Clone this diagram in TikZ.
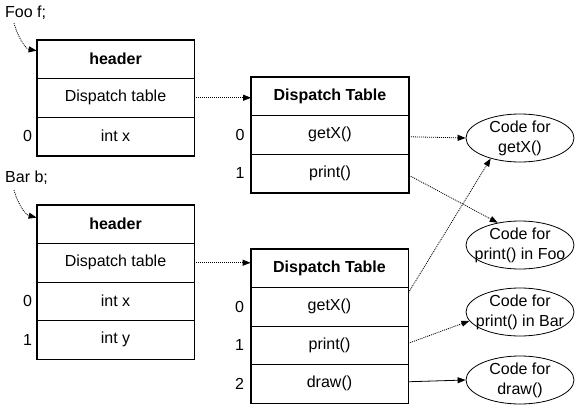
\documentclass[tikz,border=0pt]{standalone}
\usepackage{fontspec}
\setmainfont{Liberation Sans}
\usetikzlibrary{arrows.meta,shapes.geometric}
\begin{document}
\begin{tikzpicture}[x=1pt,y=-1pt,
  cell/.style={draw, line width=0.8pt, minimum width=157pt, minimum height=38.5pt, inner sep=0pt, font=\fontsize{16}{19}\selectfont},
  hdr/.style={font=\fontsize{16}{19}\selectfont\bfseries},
  outerframe/.style={draw, line width=1.6pt},
  idx/.style={inner sep=0pt, font=\fontsize{16}{19}\selectfont},
  lbl/.style={inner sep=0pt, anchor=base west, font=\fontsize{16}{19}\selectfont},
  codeell/.style={draw, ellipse, line width=0.8pt, minimum width=108pt, minimum height=48pt, inner sep=0pt},
  codetxt/.style={inner sep=0pt, align=center, font=\fontsize{16}{20}\selectfont},
  ptr/.style={line width=0.8pt, dash pattern=on 1pt off 1pt, -{Triangle[length=8pt,width=6pt]}},
  solidptr/.style={line width=0.8pt, -{Triangle[length=8pt,width=6pt]}}
]
\useasboundingbox (0,0) rectangle (576,407);

% labels
\node[lbl] (foo) at (5,17) {Foo f;};
\node[lbl] (bar) at (5,182) {Bar b;};

% object Foo
\node[cell,hdr] (b1h) at (115.5,59.25) {header};
\node[cell] (b1r1) at (115.5,97.75) {Dispatch table};
\node[cell] (b1r2) at (115.5,136.25) {int x};
\draw[outerframe] (b1h.north west) rectangle (b1r2.south east);
\node[idx] (i1a) at ([xshift=-9pt]b1r2.west) {0};

% object Bar
\node[cell,hdr] (b2h) at (115.5,224.25) {header};
\node[cell] (b2r1) at (115.5,262.75) {Dispatch table};
\node[cell] (b2r2) at (115.5,301.25) {int x};
\node[cell] (b2r3) at (115.5,339.75) {int y};
\draw[outerframe] (b2h.north west) rectangle (b2r3.south east);
\node[idx] (i2a) at ([xshift=-9pt]b2r2.west) {0};
\node[idx] (i2b) at ([xshift=-9pt]b2r3.west) {1};

% dispatch table 1
\node[cell,hdr] (t1h) at (330,96.25) {Dispatch Table};
\node[cell] (t1r0) at (330,134.75) {getX()};
\node[cell] (t1r1) at (330,173.25) {print()};
\draw[outerframe] (t1h.north west) rectangle (t1r1.south east);
\node[idx] (j1a) at ([xshift=-11pt]t1r0.west) {0};
\node[idx] (j1b) at ([xshift=-11pt]t1r1.west) {1};

% dispatch table 2
\node[cell,hdr] (t2h) at (329.5,268.25) {Dispatch Table};
\node[cell] (t2r0) at (329.5,306.75) {getX()};
\node[cell] (t2r1) at (329.5,345.25) {print()};
\node[cell] (t2r2) at (329.5,383.75) {draw()};
\draw[outerframe] (t2h.north west) rectangle (t2r2.south east);
\node[idx] (j2a) at ([xshift=-11pt]t2r0.west) {0};
\node[idx] (j2b) at ([xshift=-11pt]t2r1.west) {1};
\node[idx] (j2c) at ([xshift=-11pt]t2r2.west) {2};

% code ellipses
\node[codeell] (cgetx) at (520,138) {};
\node[codetxt] (cgetxt) at (cgetx) {Code for\\getX()};
\node[codeell] (cfoo) at (520,245) {};
\node[codetxt] (cfoot) at (cfoo) {Code for\\print() in Foo};
\node[codeell] (cbar) at (520,312) {};
\node[codetxt] (cbart) at (cbar) {Code for\\print() in Bar};
\node[codeell] (cdraw) at (520,380) {};
\node[codetxt] (cdrawt) at (cdraw) {Code for\\draw()};

% pointers from variables
\coordinate (foostart) at (14,23);
\coordinate (barstart) at (14,190);
\draw[ptr] (foostart) .. controls (18,38) and (26,49) .. ([yshift=-11pt]b1h.north west);
\draw[ptr] (barstart) .. controls (18,205) and (26,215) .. ([yshift=-13pt]b2h.north west);

% vtable pointers
\draw[ptr] (b1r1.east) -- (b1r1.east -| t1h.west);
\draw[ptr] (b2r1.east) -- (b2r1.east -| t2h.west);

% method pointers
\draw[ptr] ([yshift=-2pt]t1r0.east) -- (cgetx.west);
\draw[ptr] ([yshift=-2pt]t1r1.east) -- (cfoo.135);
\draw[ptr] ([yshift=14pt]t2r0.east) -- (cgetx.215);
\draw[ptr] ([yshift=2pt]t2r1.east) -- (cbar.190);
\draw[solidptr] ([yshift=2pt]t2r2.east) -- (cdraw.west);
\end{tikzpicture}
\end{document}
